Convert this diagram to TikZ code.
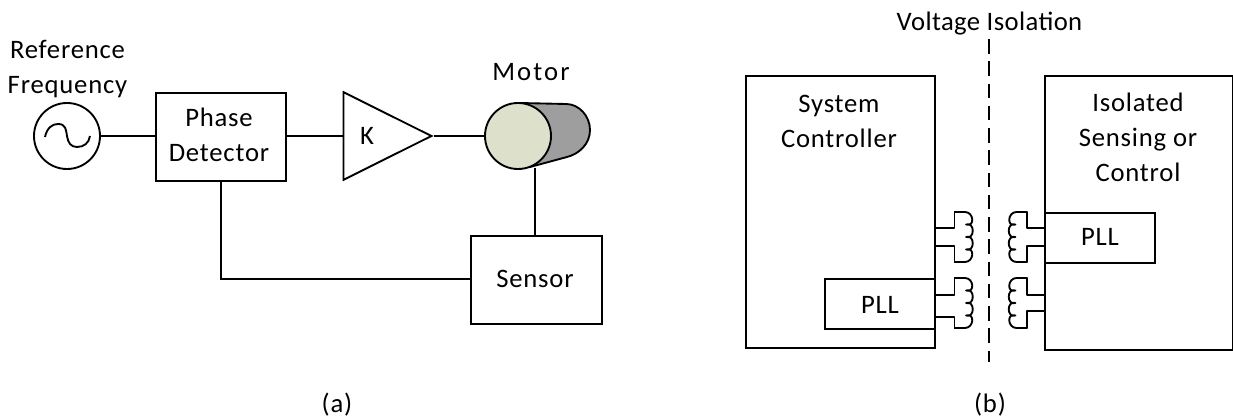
\documentclass[tikz,border=0pt]{standalone}
\usepackage{fontspec}
\setmainfont[LetterSpace=3]{Carlito}
\usetikzlibrary{shapes.geometric}
\definecolor{motorfront}{HTML}{DDE1CB}
\definecolor{motorback}{HTML}{9E9E9E}
\newcommand{\coilR}[2]{% right-facing coil with top-left (#1,#2)
  (#1,#2) -- ++(11,0) .. controls +(9,0) and +(9,3) .. ++(1,12.5) .. controls +(9,-3) and +(9,3) .. ++(0,12.5) .. controls +(9,-3) and +(9,3) .. ++(0,12.5) .. controls +(9,-3) and +(9,0) .. ++(-1,12.5) -- ++(-11,0)}
\newcommand{\coilL}[2]{% left-facing coil with top-right (#1,#2)
  (#1,#2) -- ++(-11,0) .. controls +(-9,0) and +(-9,3) .. ++(-1,12.5) .. controls +(-9,-3) and +(-9,3) .. ++(0,12.5) .. controls +(-9,-3) and +(-9,3) .. ++(0,12.5) .. controls +(-9,-3) and +(-9,0) .. ++(1,12.5) -- ++(11,0)}
\tikzset{
  x=0.75pt,y=-0.75pt,
  wire/.style={draw=black,line width=1.4pt},
  blockbox/.style={draw=black,line width=1.4pt,fill=white,inner sep=0pt,anchor=north west},
  lab/.style={font=\fontsize{20}{26.25}\selectfont,align=center,inner sep=0pt,text depth=0pt},
}
\begin{document}
\begin{tikzpicture}
\useasboundingbox (0,0) rectangle (1233,420);
% (a)
\node[lab] (reflab) at (67.5,67) {Reference\\Frequency};
\node[draw=black,line width=1.4pt,circle,minimum size=66*0.75pt,inner sep=0pt] (osc) at (67,136) {};
\draw[line width=1.4pt] (45,137) .. controls (47,128) and (52,124) .. (58,124) .. controls (66,124) and (66,130) .. (67,136) .. controls (68,143) and (71,147) .. (77,147) .. controls (84,147) and (89,143) .. (90,136);
\node[blockbox,minimum width=130*0.75pt,minimum height=88*0.75pt] (pd) at (155,92) {};
\node[lab] (pdlab) at (219,135) {Phase\\Detector};
\node[draw=black,line width=1.4pt,fill=white,isosceles triangle,isosceles triangle apex angle=53,inner sep=0pt,minimum height=88*0.75pt,minimum width=87*0.75pt,anchor=lower side] (amp) at (342.5,136) {};
\node[lab] (klab) at (367,136) {K};
\node[lab] (motorlab) at (531,72) {\addfontfeature{LetterSpace=8}Motor};
\draw[line width=1.4pt,fill=motorback,line join=round] (520,103) -- (566,104) .. controls (579,104) and (590,116) .. (590,130) .. controls (590,144) and (579,154) .. (567,157) -- (530,167) -- cycle;
\node[draw=black,line width=1.4pt,fill=motorfront,circle,minimum size=66*0.75pt,inner sep=0pt] (motor) at (518,136) {};
\coordinate (motorout) at (535,168);
\node[blockbox,minimum width=131*0.75pt,minimum height=88*0.75pt] (sensor) at (470,235) {};
\node[lab] (sensorlab) at (535,279) {Sensor};
\coordinate (pdbot) at (221,180);
\coordinate (senin) at (470,279);
\draw[wire] (osc.east) -- (155,136);
\draw[wire] (285,136) -- (amp.lower side);
\draw[wire] (amp.apex) -- (motor.west);
\draw[wire] (motorout) -- (535,235);
\draw[wire] (pdbot) |- (senin);
\node[lab] (alab) at (337,403) {(a)};
% (b)
\node[lab] (vlab) at (989.5,21) {\addfontfeature{LetterSpace=1.5}Voltage Isolation};
\coordinate (dtop) at (989,39);
\coordinate (dbot) at (989,362);
\draw[line width=1.4pt,dash pattern=on 10.9pt off 5.8pt] (dtop) -- (dbot);
\node[blockbox,minimum width=189*0.75pt,minimum height=272*0.75pt] (sys) at (745,75) {};
\node[blockbox,minimum width=187.5*0.75pt,minimum height=274*0.75pt] (iso) at (1044,75) {};
\node[lab] (syslab) at (839,121) {System\\Controller};
\node[lab] (isolab) at (1138,137) {Isolated\\Sensing or\\Control};
\node[blockbox,minimum width=110*0.75pt,minimum height=50*0.75pt] (pllL) at (824,278) {};
\node[lab] (pllLlab) at (880,305) {PLL};
\node[blockbox,minimum width=110*0.75pt,minimum height=50*0.75pt] (pllR) at (1044,212) {};
\node[lab] (pllRlab) at (1100,237) {PLL};
% transformers, left
\draw[wire,line join=round] (934,228) -- (954.5,228) -- (954.5,212);
\draw[wire,line join=round] \coilR{954}{212};
\draw[wire,line join=round] (934,246) -- (954.5,246) -- (954.5,262);
\draw[wire,line join=round] (934,295) -- (954.5,295) -- (954.5,278);
\draw[wire,line join=round] \coilR{954}{278};
\draw[wire,line join=round] (934,317) -- (954.5,317) -- (954.5,328);
% transformers, right
\draw[wire,line join=round] (1044,228) -- (1027,228) -- (1027,212);
\draw[wire,line join=round] \coilL{1027.5}{212};
\draw[wire,line join=round] (1044,246) -- (1027,246) -- (1027,262);
\draw[wire,line join=round] (1044,295) -- (1027,295) -- (1027,278);
\draw[wire,line join=round] \coilL{1027.5}{278};
\draw[wire,line join=round] (1044,311) -- (1027,311) -- (1027,328);
\node[lab] (blab) at (990,403) {(b)};
\end{tikzpicture}
\end{document}
